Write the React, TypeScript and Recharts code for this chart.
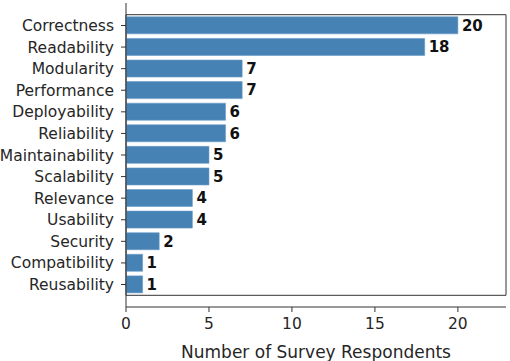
import React from "react";
import { BarChart, Bar, XAxis, YAxis, LabelList, ReferenceArea } from "recharts";

const categories = [
  "Correctness",
  "Readability",
  "Modularity",
  "Performance",
  "Deployability",
  "Reliability",
  "Maintainability",
  "Scalability",
  "Relevance",
  "Usability",
  "Security",
  "Compatibility",
  "Reusability",
];
const respondents = [20, 18, 7, 7, 6, 6, 5, 5, 4, 4, 2, 1, 1];
const xTicks = [0, 5, 10, 15, 20];

const data = categories.map((name, i) => ({ name, count: respondents[i] }));

const FONT = "DejaVu Sans, sans-serif";
const TEXT = "#262626";

export default function App() {
  return (
    <div style={{ position: "absolute", left: 0, top: 0, background: "#fff" }}>
      <BarChart
        width={510}
        height={361}
        data={data}
        layout="vertical"
        margin={{ top: 3, right: 4, left: 0, bottom: 0 }}
        barCategoryGap="10%"
      >
        <XAxis
          type="number"
          domain={[0, 22.9]}
          ticks={xTicks}
          allowDataOverflow
          height={54}
          axisLine={{ stroke: "#333" }}
          tickLine={{ stroke: "#333" }}
          tickSize={5}
          tick={{ fill: TEXT, fontSize: 15.5, fontFamily: FONT }}
          tickMargin={6}
          label={{
            value: "Number of Survey Respondents",
            position: "insideBottom",
            offset: 3,
            style: { fill: TEXT, fontSize: 17, fontFamily: FONT },
          }}
        />
        <YAxis
          type="category"
          dataKey="name"
          width={126}
          interval={0}
          padding={{ top: 11.7, bottom: 11.7 }}
          axisLine={{ stroke: "#333" }}
          tickLine={{ stroke: "#333" }}
          tickSize={5}
          tickMargin={7}
          tick={{ fill: TEXT, fontSize: 15.5, fontFamily: FONT }}
        />
        <ReferenceArea
          x1={0}
          x2={22.9}
          fill="none"
          stroke="#333"
          strokeWidth={1}
          ifOverflow="extendDomain"
        />
        <Bar dataKey="count" fill="#4682b4" stroke="#6a9bc7" strokeWidth={0.6} isAnimationActive={false}>
          <LabelList
            dataKey="count"
            position="right"
            offset={4}
            style={{ fill: "#111", fontSize: 15, fontWeight: "bold", fontFamily: FONT }}
          />
        </Bar>
      </BarChart>
    </div>
  );
}
